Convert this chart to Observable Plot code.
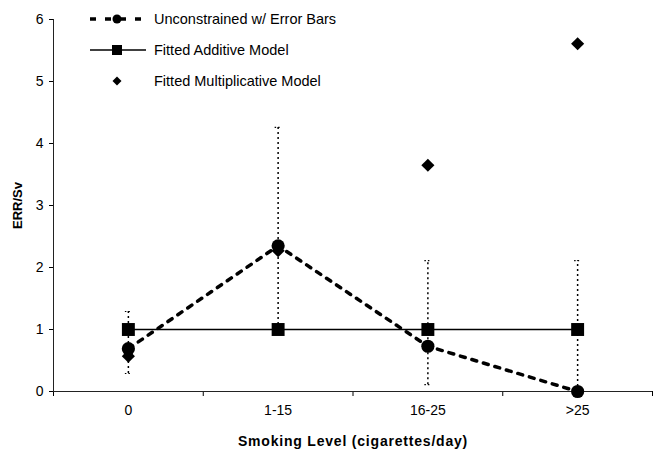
<!DOCTYPE html>
<html>
<head>
<meta charset="utf-8">
<script src="https://cdn.jsdelivr.net/npm/d3@7"></script>
<script src="https://cdn.jsdelivr.net/npm/@observablehq/plot@0.6"></script>
<style>
  html, body { margin: 0; padding: 0; background: #fff; }
  #wrap { position: relative; width: 654px; height: 449px; font-family: "Liberation Sans", Arial, sans-serif; }
  #wrap svg text { font-size: 14px; fill: #000; }
  #wrap svg g[aria-label='x-axis label'] text { font-size: 14px; font-weight: bold; letter-spacing: 0.8px; }
  #wrap svg g[aria-label='y-axis label'] text { font-size: 13px; font-weight: bold; }
  #legend { position: absolute; left: 0; top: 0; }
  .lrow { position: absolute; left: 88px; height: 16px; display: flex; align-items: center; font-size: 14.5px; color: #000; white-space: nowrap; }
  .lrow svg { margin-right: 6px; }
</style>
</head>
<body>
<div id="wrap"></div>
<script>
const categories = ["0", "1-15", "16-25", ">25"];
const unconstrained = [0.69, 2.35, 0.73, 0.0];
const errLower = [0.29, 1.0, 0.11, 0.0];
const errUpper = [1.29, 4.26, 2.11, 2.11];
const additive = [1, 1, 1, 1];
const multiplicative = [0.57, 2.27, 3.65, 5.61];
const yTicks = [0, 1, 2, 3, 4, 5, 6];
const seriesNames = ["Unconstrained w/ Error Bars", "Fitted Additive Model", "Fitted Multiplicative Model"];

const idx = categories.map((_, i) => i);
const xDomain = [-0.5, categories.length - 0.5];
const boundaries = d3.range(xDomain[0], xDomain[1] + 0.01, 1);

const rows = idx.map(i => ({
  i, cat: categories[i], unc: unconstrained[i], lo: errLower[i], hi: errUpper[i],
  add: additive[i], mult: multiplicative[i]
}));

const capSymbol = {
  draw(context, size) {
    const r = 3.5;
    context.moveTo(-r, 0);
    context.lineTo(r, 0);
  }
};

const chart = Plot.plot({
  width: 654,
  height: 449,
  marginLeft: 53,
  marginRight: 2,
  marginTop: 19,
  marginBottom: 58,
  style: { fontFamily: "'Liberation Sans', Arial, sans-serif", fontSize: "14px", color: "#000", background: "#fff" },
  x: { type: "linear", domain: xDomain },
  y: { domain: [0, 6] },
  marks: [
    Plot.axisY({ ticks: yTicks, tickFormat: d3.format("d"), tickSize: 4, tickPadding: 6, label: "ERR/Sv", labelAnchor: "center", labelArrow: "none", labelOffset: 41 }),
    Plot.axisX({ ticks: boundaries, tickSize: 5, tickFormat: () => "", label: null }),
    Plot.axisX({ ticks: idx, tickSize: 0, tickPadding: 14, tickFormat: i => categories[i], label: "Smoking Level (cigarettes/day)", labelAnchor: "center", labelArrow: "none", labelOffset: 54 }),
    Plot.ruleX([xDomain[0]], { stroke: "#222", strokeWidth: 1 }),
    Plot.ruleY([0], { stroke: "#222", strokeWidth: 1 }),
    // error bars
    Plot.ruleX(rows, { x: "i", y1: "lo", y2: "hi", stroke: "#000", strokeWidth: 1.5, strokeDasharray: "2,3" }),
    Plot.dot(rows, { x: "i", y: "hi", symbol: capSymbol, r: 3, stroke: "#000", strokeWidth: 1.2, strokeDasharray: "1.5,2", fill: "none" }),
    Plot.dot(rows, { x: "i", y: "lo", symbol: capSymbol, r: 3, stroke: "#000", strokeWidth: 1.2, strokeDasharray: "1.5,2", fill: "none" }),
    // additive line
    Plot.line(rows, { x: "i", y: "add", stroke: "#000", strokeWidth: 1.3 }),
    // unconstrained dashed line
    Plot.line(rows, { x: "i", y: "unc", stroke: "#000", strokeWidth: 3.5, strokeDasharray: "5,7" }),
    // markers
    Plot.dot(rows, { x: "i", y: "mult", symbol: "diamond2", r: 5.9, fill: "#000", stroke: "none" }),
    Plot.dot(rows, { x: "i", y: "add", symbol: "square", r: 7.3, fill: "#000", stroke: "none" }),
    Plot.dot(rows, { x: "i", y: "unc", symbol: "circle", r: 6.6, fill: "#000", stroke: "none" })
  ]
});

const wrap = document.getElementById("wrap");
wrap.appendChild(chart);

// legend
const legend = document.createElement("div");
legend.id = "legend";
const rowTops = [11, 42, 73];
const symbols = [
  `<svg width="60" height="16"><line x1="2" y1="8" x2="58" y2="8" stroke="#000" stroke-width="3.5" stroke-dasharray="6,9"/><circle cx="29" cy="8" r="4.5" fill="#000"/></svg>`,
  `<svg width="60" height="16"><line x1="2" y1="8" x2="58" y2="8" stroke="#000" stroke-width="1.3"/><rect x="24" y="3" width="10" height="10" fill="#000"/></svg>`,
  `<svg width="60" height="16"><path d="M29,3.5L33.5,8L29,12.5L24.5,8Z" fill="#000"/></svg>`
];
seriesNames.forEach((name, k) => {
  const r = document.createElement("div");
  r.className = "lrow";
  r.style.top = rowTops[k] + "px";
  r.innerHTML = symbols[k] + `<span>${name}</span>`;
  legend.appendChild(r);
});
wrap.appendChild(legend);
</script>
</body>
</html>
